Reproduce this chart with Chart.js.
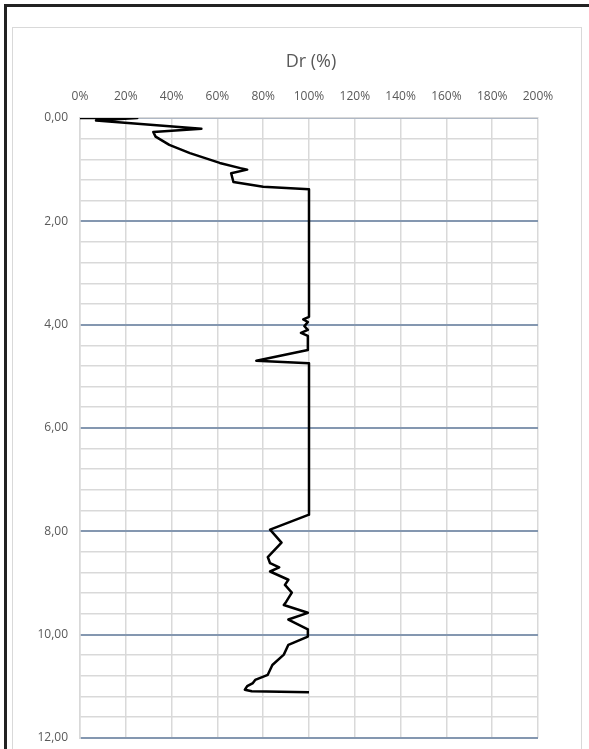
<html>
    <head>
        <title>Dr (%)</title>
        <script src="https://cdn.jsdelivr.net/npm/chart.js"></script>
        <style>
            body {
                margin: 0;
                background: white;
                font-family: "Open Sans";
                overflow: hidden;
            }
            #frame {
                position: absolute;
                left: 4px;
                top: 4px;
                width: 600px;
                height: 760px;
                border-top: 3px solid #222;
                border-left: 3px solid #222;
            }
            #box {
                position: absolute;
                left: 12px;
                top: 27px;
                width: 568px;
                height: 740px;
                border: 1px solid #d9d9d9;
            }
            #chart {
                display: block;
            }
        </style>
    </head>
    <body>
        <div id="frame"></div>
        <div id="box">
            <canvas id="chart" width="568" height="729"></canvas>
        </div>
        <script>
            // depth (m) and relative density Dr (%) read from the profile
            const depth = [0, 0.00, 0.05, 0.21, 0.27, 0.36, 0.52, 0.68, 0.87, 0.97, 1.00, 1.07, 1.24, 1.33, 1.38,
                3.85, 3.90, 3.95, 4.03, 4.10, 4.16, 4.22, 4.49, 4.70, 4.75,
                7.68, 7.97, 8.22, 8.50, 8.62, 8.70, 8.78, 8.94, 9.04, 9.19, 9.37, 9.43, 9.58, 9.71, 9.90, 10.04,
                10.20, 10.39, 10.59, 10.78, 10.88, 10.94, 11.00, 11.07, 11.10, 11.12];
            const dr = [0, 25, 7, 53, 32, 33, 39, 48, 61, 70, 73, 66, 67, 80, 100,
                100, 97.5, 99.5, 98, 99.5, 96.5, 99.5, 99.5, 77, 100,
                100, 83, 88, 82, 83, 87, 83, 91, 89.5, 92.5, 90, 89, 99.5, 91, 99.5, 99.5,
                91, 89, 84, 82, 76.5, 75.5, 73, 72, 75, 100];
            const xTicks = [0, 20, 40, 60, 80, 100, 120, 140, 160, 180, 200];
            const yLabels = [0, 2, 4, 6, 8, 10, 12];

            const isMajor = v => yLabels.some(l => Math.abs(l - v) < 1e-6);

            const titlePlugin = {
                id: 'plotTitle',
                afterDraw(chart) {
                    const ctx = chart.ctx;
                    const a = chart.chartArea;
                    ctx.save();
                    ctx.font = '18px "Open Sans"';
                    ctx.fillStyle = '#595959';
                    ctx.textAlign = 'center';
                    ctx.textBaseline = 'middle';
                    ctx.fillText('Dr (%)', (a.left + a.right) / 2 + 2, 34);
                    ctx.restore();
                }
            };

            const config = {
                type: 'scatter',
                data: {
                    datasets: [{
                        data: depth.map((d, i) => ({x: dr[i], y: d})),
                        showLine: true,
                        borderColor: '#000',
                        borderWidth: 2.5,
                        borderJoinStyle: 'round',
                        pointRadius: 0,
                        tension: 0
                    }]
                },
                options: {
                    responsive: false,
                    animation: false,
                    layout: {
                        padding: {left: 0, right: 43, top: 0, bottom: 4}
                    },
                    plugins: {
                        legend: {display: false},
                        tooltip: {enabled: false}
                    },
                    scales: {
                        x: {
                            type: 'linear',
                            position: 'top',
                            min: 0,
                            max: 200,
                            afterBuildTicks: scale => {
                                scale.ticks = xTicks.map(v => ({value: v}));
                            },
                            afterFit: scale => { scale.height = 90; },
                            ticks: {
                                callback: v => v + '%',
                                color: '#595959',
                                font: {family: 'Open Sans', size: 12},
                                padding: 14,
                                maxRotation: 0
                            },
                            grid: {
                                color: '#d9d9d9',
                                lineWidth: 1.5,
                                drawTicks: false
                            },
                            border: {color: '#d9d9d9', width: 1.5}
                        },
                        y: {
                            type: 'linear',
                            reverse: true,
                            min: 0,
                            max: 12,
                            afterBuildTicks: scale => {
                                const t = [];
                                for (let i = 0; i <= 30; i++) t.push({value: Math.round(i * 4) / 10});
                                scale.ticks = t;
                            },
                            afterFit: scale => { scale.width = 67; },
                            ticks: {
                                autoSkip: false,
                                callback: v => isMajor(v) ? v.toFixed(2).replace('.', ',') : '',
                                color: '#595959',
                                font: {family: 'Open Sans', size: 12},
                                padding: 12
                            },
                            grid: {
                                color: ctx => isMajor(ctx.tick.value) ? '#8497b0' : '#d9d9d9',
                                lineWidth: ctx => isMajor(ctx.tick.value) ? 2 : 1.5,
                                drawTicks: false
                            },
                            border: {color: '#d9d9d9', width: 1.5}
                        }
                    }
                },
                plugins: [titlePlugin]
            };
            new Chart(document.getElementById('chart'), config);
        </script>
    </body>
</html>
